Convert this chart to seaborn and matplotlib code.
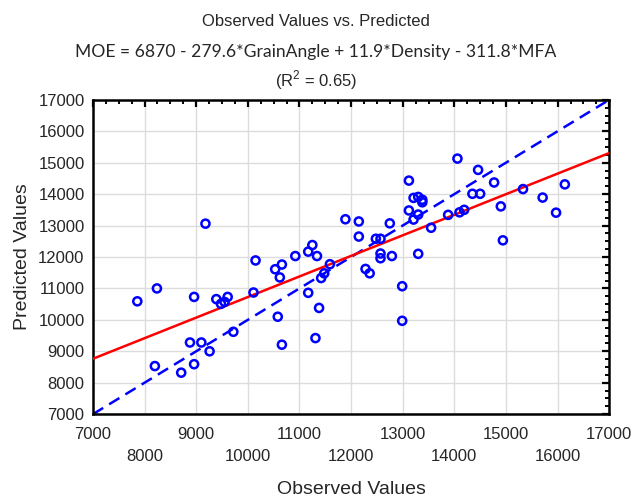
import matplotlib
matplotlib.use("Agg")
import matplotlib.pyplot as plt
from matplotlib.ticker import AutoMinorLocator
import pandas as pd
import seaborn as sns

# values
observed = [7860, 8240, 9180, 8960, 9390, 9480, 9550, 9610, 8200, 8880,
            9100, 9260, 8710, 8960, 9720, 10150, 10110, 10530, 10660, 10620,
            10580, 10660, 10920, 11170, 11250, 11340, 11170, 11380, 11310, 11590,
            11420, 11480, 11890, 12150, 12150, 12280, 12360, 12480, 12570, 12570,
            12570, 12750, 12790, 12990, 12990, 13120, 13120, 13210, 13210, 13300,
            13380, 13380, 13300, 13300, 13550, 13880, 14060, 14100, 14190, 14350,
            14460, 14500, 14770, 14900, 14940, 15330, 15710, 15970, 16140]
predicted = [10590, 11000, 13060, 10730, 10660, 10510, 10570, 10730, 8530, 9280,
             9280, 9000, 8320, 8590, 9620, 11890, 10870, 11610, 11760, 11350,
             10100, 9210, 12030, 12170, 12380, 12030, 10860, 10380, 9420, 11770,
             11330, 11480, 13200, 13130, 12650, 11620, 11480, 12580, 12580, 12110,
             11960, 13070, 12030, 11070, 9970, 14430, 13480, 13880, 13190, 13910,
             13820, 13740, 13350, 12100, 12930, 13340, 15130, 13420, 13500, 14010,
             14770, 14010, 14370, 13610, 12530, 14160, 13890, 13410, 14310]
axis_ticks = list(range(7000, 18000, 1000))

title_top = "Observed Values vs. Predicted"
title_eq = "MOE = 6870 - 279.6*GrainAngle + 11.9*Density - 311.8*MFA"
title_r2 = "(R$^2$ = 0.65)"

df = pd.DataFrame({"observed": observed, "predicted": predicted})

sns.set_style("white")
plt.rcParams["font.family"] = ["Liberation Sans", "DejaVu Sans"]
plt.rcParams["mathtext.fontset"] = "custom"
plt.rcParams["mathtext.rm"] = "Liberation Sans"

fig = plt.figure(figsize=(6.32, 4.99), dpi=100)
ax = fig.add_axes([0.147, 0.170, 0.817, 0.630])

lo, hi = axis_ticks[0], axis_ticks[-1]
ax.set_xlim(lo, hi)
ax.set_ylim(lo, hi)

# identity line
ax.plot([lo, hi], [lo, hi], color="#0000FF", lw=1.8, dashes=(4.8, 2.8), zorder=2)
# regression line of predicted on observed
sns.regplot(data=df, x="observed", y="predicted", ax=ax, scatter=False, ci=None,
            truncate=False, line_kws={"color": "#FF0000", "lw": 1.8, "zorder": 3})
sns.scatterplot(data=df, x="observed", y="predicted", ax=ax, marker="o", s=34,
                facecolor="none", edgecolor="#0000FF", linewidth=1.8, zorder=4)

ax.set_xticks(axis_ticks)
ax.set_yticks(axis_ticks)
ax.set_xticklabels([str(t) if i % 2 == 0 else "\n" + str(t) for i, t in enumerate(axis_ticks)],
                   linespacing=1.55)
ax.set_yticklabels([str(t) for t in axis_ticks])
ax.xaxis.set_minor_locator(AutoMinorLocator(4))
ax.yaxis.set_minor_locator(AutoMinorLocator(4))
ax.tick_params(which="both", direction="in", top=True, right=True, color="black")
ax.tick_params(which="major", length=5, width=1.6, labelsize=12, pad=6)
ax.tick_params(axis="x", which="major", pad=9.5)
ax.tick_params(which="minor", length=3, width=1.4)
ax.grid(True, which="major", color="#dcdcdc", lw=1)
ax.set_axisbelow(True)
for sp in ax.spines.values():
    sp.set_linewidth(1.8)
    sp.set_color("black")

ax.set_xlabel("Observed Values", fontsize=14, labelpad=12)
ax.set_ylabel("Predicted Values", fontsize=14, labelpad=5)

fig.text(0.5, 1 - 22 / 499, title_top, ha="center", va="center", fontsize=12)
fig.text(0.5, 1 - 52 / 499, title_eq, ha="center", va="center", fontsize=12.6, family=["Lato", "DejaVu Sans"])
fig.text(0.5, 1 - 80 / 499, title_r2, ha="center", va="center", fontsize=12)

fig.savefig("out.png", dpi=100)
